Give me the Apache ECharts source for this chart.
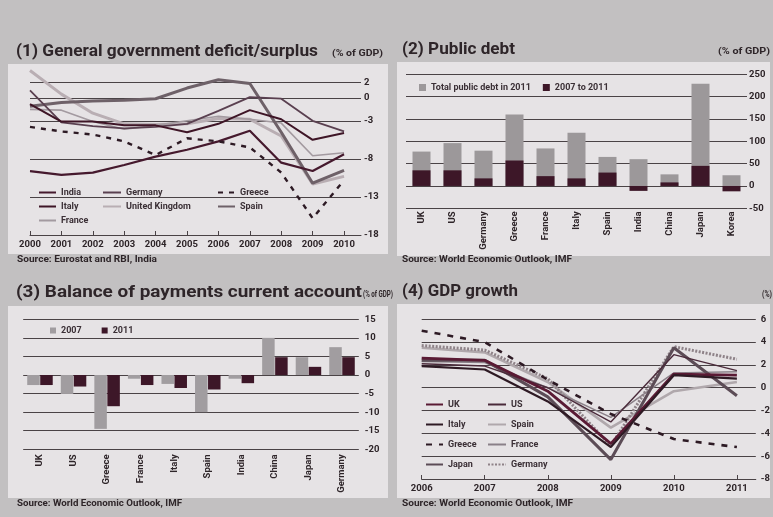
<!DOCTYPE html>
<html><head><meta charset="utf-8">
<script src="https://cdn.jsdelivr.net/npm/echarts@6/dist/echarts.min.js"></script>
<style>html,body{margin:0;padding:0;background:#c2c0c1;}#c{width:773px;height:517px;}</style>
</head><body><div id="c"></div>
<script>
// ---------- data ----------
const deficitYears   = [2000,2001,2002,2003,2004,2005,2006,2007,2008,2009,2010];
const deficitIndia   = [-9.6,-10.1,-9.8,-8.8,-7.7,-6.8,-5.7,-4.3,-8.5,-9.6,-7.4];
const deficitGermany = [1.0,-3.2,-3.7,-4.0,-3.8,-3.4,-1.7,0.1,-0.1,-3.0,-4.4];
const deficitGreece  = [-3.8,-4.4,-4.8,-5.7,-7.5,-5.3,-5.7,-6.5,-9.8,-15.8,-10.8];
const deficitItaly   = [-0.8,-3.1,-3.1,-3.6,-3.6,-4.5,-3.4,-1.6,-2.8,-5.5,-4.6];
const deficitUK      = [3.6,0.5,-2.0,-3.4,-3.5,-3.4,-2.7,-2.8,-5.0,-11.3,-10.3];
const deficitSpain   = [-1.1,-0.6,-0.4,-0.3,-0.1,1.3,2.4,1.9,-4.5,-11.2,-9.5];
const deficitFrance  = [-1.5,-1.6,-3.1,-4.1,-3.6,-3.0,-2.4,-2.8,-3.3,-7.6,-7.2];
const deficitTicks   = [2,0,-3,-8,-13,-18];

const debtCountries  = ['UK','US','Germany','Greece','France','Italy','Spain','India','China','Japan','Korea'];
const debtTotal2011  = [77,96,79,160,84,119,65,60,26,229,24];
const debtChange     = [35,35,17,57,22,17,30,-11,8,45,-12];

const caCountries    = ['UK','US','Greece','France','Italy','Spain','India','China','Japan','Germany'];
const ca2007         = [-2.7,-5.1,-14.5,-1.0,-2.4,-10.0,-1.0,10.0,4.8,7.5];
const ca2011         = [-2.7,-3.1,-8.4,-2.7,-3.5,-3.9,-2.2,4.8,2.2,4.8];

const gdpYears   = [2006,2007,2008,2009,2010,2011];
const gdpUK      = [2.6,2.4,-0.3,-4.9,1.2,1.1];
const gdpUS      = [2.1,1.9,0.0,-3.0,2.9,1.5];
const gdpItaly   = [1.9,1.6,-1.2,-5.2,1.1,0.8];
const gdpSpain   = [3.5,3.1,0.5,-3.5,-0.3,0.5];
const gdpGreece  = [5.0,4.0,0.7,-2.3,-4.5,-5.2];
const gdpFrance  = [2.3,2.2,0.0,-2.6,1.3,1.4];
const gdpJapan   = [2.4,2.4,-0.8,-6.3,3.5,-0.7];
const gdpGermany = [3.7,3.3,0.8,-5.1,3.6,2.5];

// ---------- helpers ----------
const FAM = 'Roboto, "Noto Sans", sans-serif';
const TXT = '#2e2529';
const GRIDC = '#4a4346';
const cv = document.createElement('canvas').getContext('2d');
function fitText(text, x, y, size, targetW, color) {
  const font = 'bold ' + size + 'px ' + FAM;
  cv.font = font;
  const w = cv.measureText(text).width;
  return { type: 'text', x: x, y: y, scaleX: targetW / w, z: 5,
    style: { text: text, font: font, fill: color || TXT, verticalAlign: 'middle', align: 'left' } };
}
function pairs(xs, ys) { return xs.map((x, i) => [x, ys[i]]); }
function line(name, xs, ys, gi, color, width, type) {
  return { name: name, type: 'line', xAxisIndex: gi, yAxisIndex: gi, data: pairs(xs, ys),
    symbol: 'none', clip: false, lineStyle: { color: color, width: width, type: type || 'solid' },
    itemStyle: { color: color }, emphasis: { disabled: true }, animation: false };
}
const tickLab = { fontSize: 9.5, fontWeight: 'bold', color: TXT, fontFamily: FAM };
const legText = { fontSize: 9, fontWeight: 'bold', color: '#3b3036', fontFamily: FAM };
const split = { show: true, lineStyle: { color: GRIDC, width: 1 } };
const strip4 = n => n.replace(/ 4$/, '');
const noSym = { opacity: 0 };

const chart = echarts.init(document.getElementById('c'), null, { renderer: 'canvas' });
chart.setOption({
  backgroundColor: '#c2c0c1',
  animation: false,
  grid: [
    { left: 30, top: 67.5, width: 331, height: 167.5 },
    { left: 406, top: 74.3, width: 341, height: 134 },
    { left: 23.2, top: 319.3, width: 335.6, height: 130 },
    { left: 421.7, top: 319.3, width: 335, height: 159.7 }
  ],
  xAxis: [
    { gridIndex: 0, type: 'value', min: 2000, max: 2010.54,
      axisLine: { show: true, onZero: false, lineStyle: { color: GRIDC, width: 1 } },
      axisTick: { show: true, inside: true, length: 4, customValues: deficitYears, lineStyle: { color: GRIDC } },
      axisLabel: Object.assign({ customValues: deficitYears, margin: 5, formatter: v => String(v) }, tickLab),
      splitLine: { show: false } },
    { gridIndex: 1, type: 'category', data: debtCountries,
      axisLine: { show: false, onZero: false }, axisTick: { show: false },
      axisLabel: Object.assign({ rotate: 90, margin: 3, interval: 0 }, tickLab) },
    { gridIndex: 2, type: 'category', data: caCountries,
      axisLine: { show: false, onZero: false }, axisTick: { show: false },
      axisLabel: Object.assign({ rotate: 90, margin: 5, interval: 0 }, tickLab) },
    { gridIndex: 3, type: 'value', min: 2006, max: 2011.3,
      axisLine: { show: true, onZero: false, lineStyle: { color: GRIDC, width: 1 } },
      axisTick: { show: true, inside: true, length: 4, customValues: gdpYears, lineStyle: { color: GRIDC } },
      axisLabel: Object.assign({ customValues: gdpYears, margin: 5, formatter: v => String(v) }, tickLab),
      splitLine: { show: false } }
  ],
  yAxis: [
    { gridIndex: 0, type: 'value', min: -18, max: 4, position: 'right',
      axisLine: { show: false }, axisTick: { show: false, customValues: deficitTicks },
      axisLabel: Object.assign({ customValues: deficitTicks, margin: 3 }, tickLab), splitLine: split },
    { gridIndex: 1, type: 'value', min: -50, max: 250, interval: 50, position: 'right',
      axisLine: { show: false }, axisTick: { show: false },
      axisLabel: Object.assign({ margin: 2 }, tickLab), splitLine: split },
    { gridIndex: 2, type: 'value', min: -20, max: 15, interval: 5, position: 'right',
      axisLine: { show: false }, axisTick: { show: false },
      axisLabel: Object.assign({ margin: 6 }, tickLab), splitLine: split },
    { gridIndex: 3, type: 'value', min: -8, max: 6, interval: 2, position: 'right',
      axisLine: { show: false }, axisTick: { show: false },
      axisLabel: Object.assign({ margin: 5 }, tickLab), splitLine: split }
  ],
  legend: [
    { left: 33, top: 183, orient: 'vertical', itemGap: 5, itemWidth: 17, itemHeight: 9, textStyle: legText,
      itemStyle: noSym, data: ['India', 'Italy', 'France'], selectedMode: false },
    { left: 97, top: 183, orient: 'vertical', itemGap: 5, itemWidth: 18, itemHeight: 9, textStyle: legText,
      itemStyle: noSym, data: ['Germany', 'United Kingdom'], selectedMode: false },
    { left: 212, top: 183, orient: 'vertical', itemGap: 5, itemWidth: 17, itemHeight: 9, textStyle: legText,
      itemStyle: noSym, data: ['Greece', 'Spain'], selectedMode: false },
    { left: 414, top: 78, itemGap: 12, itemWidth: 7, itemHeight: 7, textStyle: legText, icon: 'rect',
      data: ['Total public debt in 2011', '2007 to 2011'], selectedMode: false },
    { left: 45, top: 321, itemGap: 20, itemWidth: 6, itemHeight: 6, textStyle: legText, icon: 'rect',
      data: ['2007', '2011'], selectedMode: false },
    { left: 420, top: 395, orient: 'vertical', itemGap: 11, itemWidth: 17, itemHeight: 9, textStyle: legText,
      itemStyle: noSym, formatter: strip4, data: ['UK 4', 'Italy 4', 'Greece 4', 'Japan 4'], selectedMode: false },
    { left: 482, top: 395, orient: 'vertical', itemGap: 11, itemWidth: 18, itemHeight: 9, textStyle: legText,
      itemStyle: noSym, formatter: strip4, data: ['US 4', 'Spain 4', 'France 4', 'Germany 4'], selectedMode: false }
  ],
  series: [
    line('United Kingdom', deficitYears, deficitUK, 0, '#b9aeb3', 3),
    line('France', deficitYears, deficitFrance, 0, '#a39aa0', 1.6),
    line('Spain', deficitYears, deficitSpain, 0, '#6e6168', 3),
    line('Germany', deficitYears, deficitGermany, 0, '#5a4050', 1.8),
    line('Italy', deficitYears, deficitItaly, 0, '#3e1526', 2),
    line('India', deficitYears, deficitIndia, 0, '#45192d', 2.2),
    line('Greece', deficitYears, deficitGreece, 0, '#2d1a24', 2.4, [5, 6]),

    { name: 'Total public debt in 2011', type: 'bar', xAxisIndex: 1, yAxisIndex: 1, data: debtTotal2011,
      barWidth: 18, itemStyle: { color: '#9c989a' }, emphasis: { disabled: true } },
    { name: '2007 to 2011', type: 'bar', xAxisIndex: 1, yAxisIndex: 1, data: debtChange,
      barWidth: 18, barGap: '-100%', itemStyle: { color: '#3d1728' }, emphasis: { disabled: true } },

    { name: '2007', type: 'bar', xAxisIndex: 2, yAxisIndex: 2, data: ca2007,
      barWidth: 12.5, barGap: '4%', itemStyle: { color: '#a19da0' }, emphasis: { disabled: true } },
    { name: '2011', type: 'bar', xAxisIndex: 2, yAxisIndex: 2, data: ca2011,
      barWidth: 12.5, barGap: '4%', itemStyle: { color: '#3d1728' }, emphasis: { disabled: true } },

    line('Spain 4', gdpYears, gdpSpain, 3, '#b0a8ac', 2.6),
    line('France 4', gdpYears, gdpFrance, 3, '#8a8088', 1.4),
    line('Germany 4', gdpYears, gdpGermany, 3, '#8e8288', 3, [2, 1.5]),
    line('Japan 4', gdpYears, gdpJapan, 3, '#5c4c56', 3),
    line('US 4', gdpYears, gdpUS, 3, '#4a2a3a', 1.4),
    line('UK 4', gdpYears, gdpUK, 3, '#5a1a34', 2.8),
    line('Italy 4', gdpYears, gdpItaly, 3, '#2e1a24', 2.2),
    line('Greece 4', gdpYears, gdpGreece, 3, '#2d1a24', 2.6, [6, 7])
  ],
  graphic: { elements: [
    { type: 'rect', shape: { x: 8, y: 64, width: 380, height: 190 }, style: { fill: '#e6e3e5' }, z: -10 },
    { type: 'rect', shape: { x: 397, y: 62, width: 373, height: 194 }, style: { fill: '#e6e3e5' }, z: -10 },
    { type: 'rect', shape: { x: 8, y: 306, width: 380, height: 192 }, style: { fill: '#e6e3e5' }, z: -10 },
    { type: 'rect', shape: { x: 397, y: 304, width: 373, height: 194 }, style: { fill: '#e6e3e5' }, z: -10 },
    fitText('(1) General government deficit/surplus', 16, 52, 17, 302),
    fitText('(% of GDP)', 332, 54, 9, 51),
    fitText('(2) Public debt', 402, 50, 17, 113),
    fitText('(% of GDP)', 718, 52, 9, 52),
    fitText('(3) Balance of payments current account', 16, 293, 17, 346),
    fitText('(% of GDP)', 363, 295, 9, 30),
    fitText('(4) GDP growth', 402, 292, 17, 116),
    fitText('(%)', 762, 295, 9, 10),
    fitText('Source: Eurostat and RBI, India', 17, 260, 8.5, 140),
    fitText('Source: World Economic Outlook, IMF', 402, 260, 8.5, 170),
    fitText('Source: World Economic Outlook, IMF', 17, 504, 8.5, 165),
    fitText('Source: World Economic Outlook, IMF', 402, 504, 8.5, 171)
  ] }
});
</script>
</body></html>
